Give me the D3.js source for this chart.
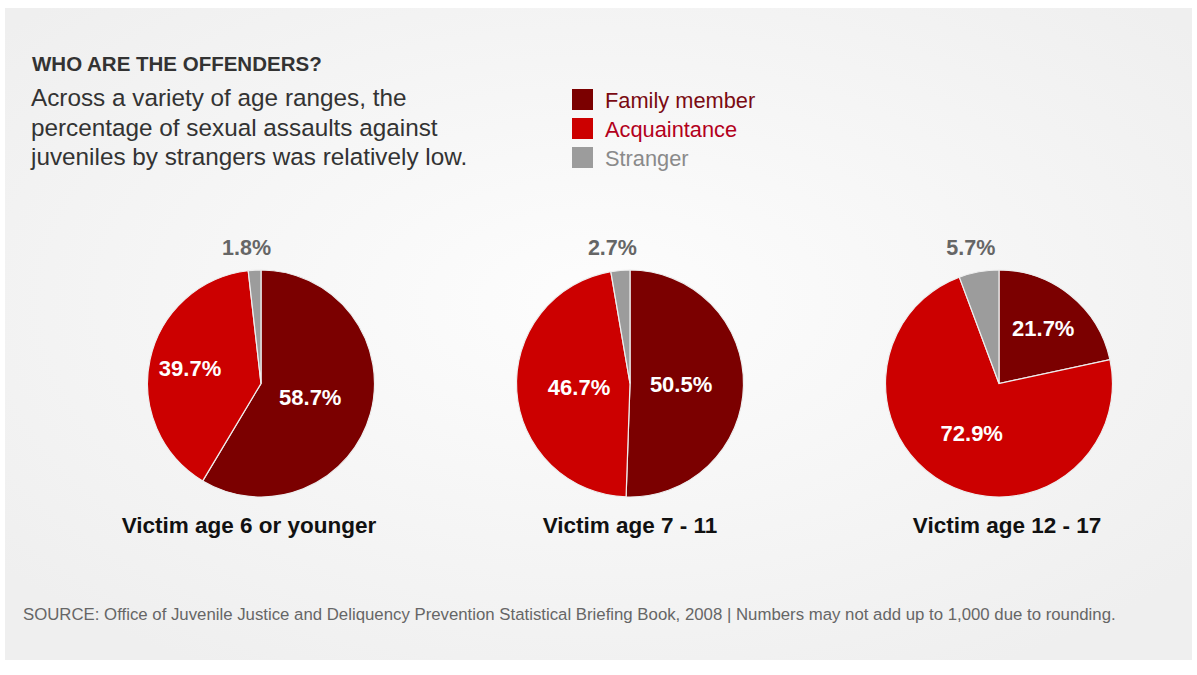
<!DOCTYPE html>
<html>
<head>
<meta charset="utf-8">
<script src="https://cdn.jsdelivr.net/npm/d3@7"></script>
<style>
  body { margin: 0; background: #fff; }
  svg { display: block; font-family: "Liberation Sans", Arial, sans-serif; }
</style>
</head>
<body>
<div id="chart"></div>
<script>
// data
const groups = ["Victim age 6 or younger", "Victim age 7 - 11", "Victim age 12 - 17"];
const offenders = ["Family member", "Acquaintance", "Stranger"];
const family = [58.7, 50.5, 21.7];
const acquaintance = [39.7, 46.7, 72.9];
const stranger = [1.8, 2.7, 5.7];

const colors = ["#7b0000", "#cc0000", "#9c9c9c"];
const legendText = ["#7a0a12", "#b3001b", "#8a8a8a"];
// how far out (fraction of radius) the inside labels sit, per pie
const labelR = [[0.45, 0.64], [0.45, 0.45], [0.62, 0.5]];

const width = 1197, height = 675, R = 113.5, cy = 383.5;

const svg = d3.select("#chart").append("svg")
  .attr("width", width)
  .attr("height", height);

const defs = svg.append("defs");
const grad = defs.append("radialGradient").attr("id", "bg")
  .attr("cx", "50%").attr("cy", "45%").attr("r", "65%");
grad.append("stop").attr("offset", "0%").attr("stop-color", "#fdfdfd");
grad.append("stop").attr("offset", "100%").attr("stop-color", "#efefef");

svg.append("rect").attr("x", 5).attr("y", 8).attr("width", 1187).attr("height", 652)
  .attr("fill", "url(#bg)");

// header
svg.append("text").attr("x", 32).attr("y", 71)
  .attr("font-size", 20.5).attr("font-weight", "bold").attr("fill", "#333")
  .text("WHO ARE THE OFFENDERS?");

const sub = ["Across a variety of age ranges, the",
  "percentage of sexual assaults against",
  "juveniles by strangers was relatively low."];
svg.append("g").selectAll("text").data(sub).join("text")
  .attr("x", 31).attr("y", (d, i) => 106 + i * 29.5)
  .attr("font-size", 24.3).attr("fill", "#333")
  .text(d => d);

// legend
const legend = svg.append("g").attr("transform", "translate(572,89)");
const li = legend.selectAll("g").data(offenders).join("g")
  .attr("transform", (d, i) => `translate(0,${i * 29})`);
li.append("rect").attr("width", 21).attr("height", 21)
  .attr("fill", (d, i) => colors[i]);
li.append("text").attr("x", 33).attr("y", 18.5)
  .attr("font-size", 21.8).attr("fill", (d, i) => legendText[i])
  .text(d => d);

// pies
const x = d3.scalePoint().domain(groups).range([261, 999]);
const pie = d3.pie().sort(null).value(d => d.value);
const arc = d3.arc().innerRadius(0).outerRadius(R);

groups.forEach((g, gi) => {
  const vals = [family[gi], acquaintance[gi], stranger[gi]]
    .map((v, i) => ({ key: offenders[i], value: v, i }));
  const arcs = pie(vals);
  const gp = svg.append("g").attr("transform", `translate(${x(g)},${cy})`);

  gp.selectAll("path").data(arcs).join("path")
    .attr("d", arc)
    .attr("fill", d => colors[d.data.i])
    .attr("stroke", "#eee")
    .attr("stroke-width", 1.2);

  // inside labels
  gp.selectAll("text.in").data(arcs.slice(0, 2)).join("text")
    .attr("class", "in")
    .attr("transform", (d, i) => {
      const a = (d.startAngle + d.endAngle) / 2, r = R * labelR[gi][i];
      return `translate(${Math.sin(a) * r},${-Math.cos(a) * r})`;
    })
    .attr("text-anchor", "middle").attr("dy", "0.35em")
    .attr("font-size", 22).attr("font-weight", "bold").attr("fill", "#fff")
    .text(d => d.data.value.toFixed(1) + "%");

  // stranger label above the pie
  const s = arcs[2], sa = (s.startAngle + s.endAngle) / 2;
  gp.append("text")
    .attr("x", Math.sin(sa) * R - 8).attr("y", -R - 15)
    .attr("text-anchor", "middle")
    .attr("font-size", 21.5).attr("font-weight", "bold").attr("fill", "#666")
    .text(s.data.value.toFixed(1) + "%");

  gp.append("text").attr("x", gi === 0 ? -12 : gi === 2 ? 8 : 0).attr("y", R + 36)
    .attr("text-anchor", "middle")
    .attr("font-size", 22.5).attr("font-weight", "bold").attr("fill", "#111")
    .text(g);
});

svg.append("text").attr("x", 23).attr("y", 620)
  .attr("font-size", 16.8).attr("fill", "#666")
  .text("SOURCE: Office of Juvenile Justice and Deliquency Prevention Statistical Briefing Book, 2008 | Numbers may not add up to 1,000 due to rounding.");
</script>
</body>
</html>
